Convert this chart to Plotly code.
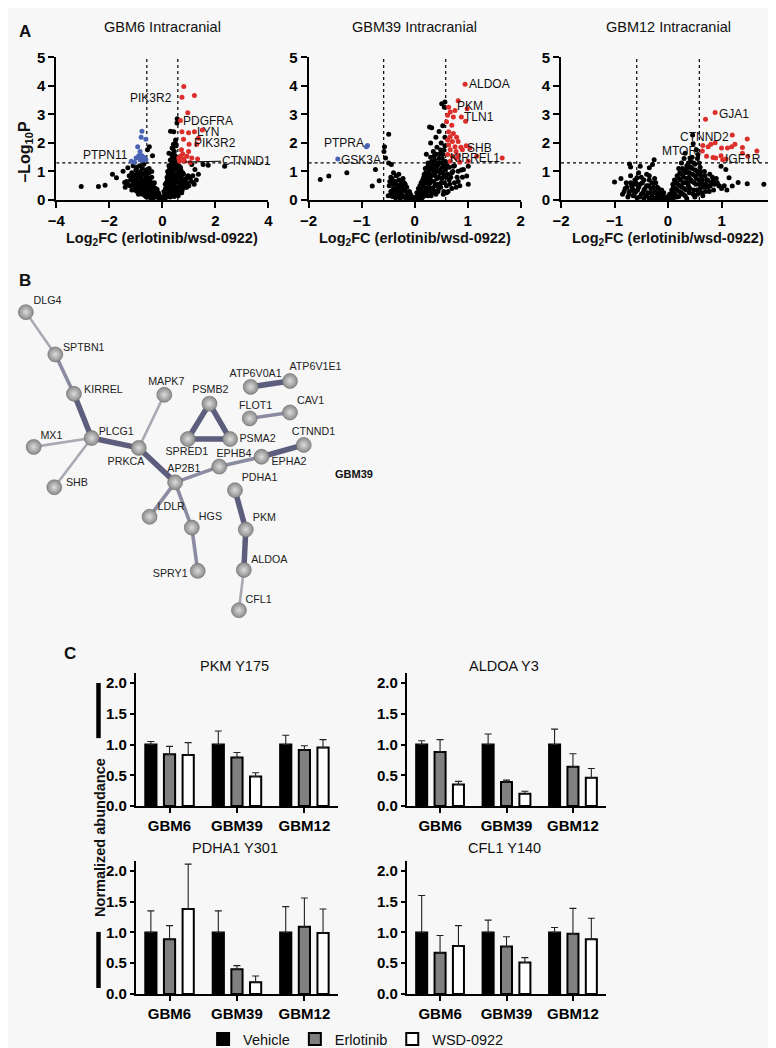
import plotly.graph_objects as go

FONT = "Liberation Sans, Arial, sans-serif"
W, H = 776, 1048

# ---------------- Panel A: volcano data (log2FC, -log10 p) ----------------
gbm6_ns = [(-3.06, 0.47), (-2.41, 0.47), (-2.16, 0.52), (-1.88, 0.90), (-1.73, 0.78), (-1.42, 0.61),
           (-1.48, 1.01), (-1.30, 1.13), (2.35, 1.18), (0.31, 2.41), (0.56, 2.85), (0.55, 2.70),
           (0.43, 2.39), (0.49, 1.99), (0.37, 1.82), (0.25, 1.64), (-0.56, 1.76), (-0.49, 1.87),
           (-0.37, 1.55), (1.11, 1.24), (1.23, 1.07), (1.36, 0.90), (1.05, 0.78), (1.54, 1.24), (1.73, 1.22),
           (-0.05, 0.05), (-0.1, 0.12), (-0.15, 0.08), (-0.2, 0.2), (-0.25, 0.15), (-0.3, 0.3), (-0.3, 0.1),
           (-0.35, 0.22), (-0.4, 0.4), (-0.4, 0.15), (-0.45, 0.3), (-0.5, 0.5), (-0.5, 0.2), (-0.55, 0.38),
           (-0.6, 0.62), (-0.6, 0.25), (-0.65, 0.45), (-0.7, 0.7), (-0.7, 0.3), (-0.75, 0.55), (-0.8, 0.85),
           (-0.8, 0.4), (-0.85, 0.65), (-0.9, 0.95), (-0.9, 0.5), (-0.95, 0.75), (-1.0, 1.05), (-1.0, 0.55),
           (-1.05, 0.85), (-1.1, 0.6), (-1.15, 0.95), (-1.2, 0.7), (-1.3, 0.55), (-1.4, 0.45), (-0.55, 0.8),
           (-0.65, 0.95), (-0.75, 1.1), (-0.85, 1.2), (-0.45, 0.65), (-0.35, 0.5), (-0.25, 0.35), (-0.6, 1.05),
           (-0.5, 0.95), (-0.7, 1.25), (-0.95, 1.15), (-1.1, 1.2), (-0.4, 0.8), (-0.3, 0.6), (-0.2, 0.38),
           (-0.15, 0.25), (-0.55, 0.12), (-0.75, 0.2), (-0.95, 0.3), (-1.15, 0.35), (-0.65, 0.15), (-0.85, 0.25),
           (-0.45, 0.08), (-0.35, 0.05), (-0.5, 1.1), (-0.4, 1.0),
           (0.05, 0.1), (0.08, 0.25), (0.1, 0.05), (0.12, 0.4), (0.15, 0.2), (0.15, 0.6), (0.18, 0.8),
           (0.2, 0.35), (0.2, 1.0), (0.22, 0.15), (0.25, 0.55), (0.25, 1.2), (0.28, 0.75), (0.3, 0.3),
           (0.3, 1.4), (0.32, 0.95), (0.35, 0.5), (0.35, 1.6), (0.38, 1.15), (0.4, 0.2), (0.4, 0.7),
           (0.4, 1.8), (0.42, 1.35), (0.45, 0.9), (0.45, 0.45), (0.48, 1.55), (0.5, 1.1), (0.5, 0.25),
           (0.52, 0.65), (0.55, 1.3), (0.55, 0.85), (0.58, 0.4), (0.6, 1.0), (0.6, 0.6), (0.62, 1.2),
           (0.65, 0.3), (0.65, 0.8), (0.7, 0.5), (0.7, 1.05), (0.75, 0.7), (0.75, 0.35), (0.8, 0.9),
           (0.8, 0.55), (0.85, 0.45), (0.9, 0.75), (0.95, 0.6), (1.0, 0.5), (1.05, 0.8), (1.1, 0.65),
           (1.2, 0.55), (0.3, 0.1), (0.45, 0.12), (0.6, 0.15), (0.2, 0.65), (0.35, 0.85), (0.28, 1.1),
           (0.5, 1.45), (0.45, 1.7), (0.52, 1.9), (0.5, 2.1)]
gbm6_core = [(-0.08, 0.02), (-0.12, 0.18), (-0.18, 0.12), (-0.22, 0.28), (-0.27, 0.22), (-0.28, 0.42),
             (-0.33, 0.15), (-0.33, 0.36), (-0.37, 0.28), (-0.38, 0.48), (-0.42, 0.22), (-0.43, 0.55),
             (-0.47, 0.42), (-0.48, 0.7), (-0.52, 0.3), (-0.53, 0.6), (-0.57, 0.5), (-0.58, 0.72),
             (-0.62, 0.4), (-0.63, 0.85), (-0.67, 0.6), (-0.68, 0.22), (-0.72, 0.45), (-0.73, 0.9),
             (-0.77, 0.72), (-0.78, 0.3), (-0.82, 0.55), (-0.83, 1.0), (-0.87, 0.38), (-0.88, 0.82),
             (-0.92, 0.62), (-0.97, 0.45), (-0.98, 0.9), (-1.02, 0.7), (-1.07, 0.5), (-1.12, 0.8),
             (-1.22, 0.5), (-1.25, 0.85), (-1.35, 0.65), (-0.6, 0.1), (-0.9, 0.2), (-1.05, 0.35),
             (0.03, 0.02), (0.06, 0.3), (0.09, 0.15), (0.11, 0.55), (0.13, 0.3), (0.16, 0.42), (0.17, 0.1),
             (0.19, 0.7), (0.21, 0.5), (0.23, 0.9), (0.24, 0.28), (0.27, 0.62), (0.27, 1.0), (0.29, 0.42),
             (0.31, 0.85), (0.33, 1.25), (0.34, 0.15), (0.36, 0.65), (0.37, 1.0), (0.39, 0.38), (0.41, 0.9),
             (0.43, 1.55), (0.44, 0.58), (0.46, 1.2), (0.47, 0.3), (0.49, 0.8), (0.51, 1.3), (0.53, 0.45),
             (0.54, 1.05), (0.57, 0.7), (0.59, 1.2), (0.61, 0.35), (0.63, 0.92), (0.66, 0.6), (0.68, 1.15),
             (0.72, 0.78), (0.73, 0.25), (0.77, 0.95), (0.78, 0.5), (0.82, 0.7), (0.87, 0.6), (0.92, 0.45),
             (0.97, 0.85), (1.15, 0.85), (1.28, 0.7), (0.42, 1.95), (0.38, 1.5)]
gbm6_up = [(0.81, 3.98), (0.74, 3.60), (1.21, 3.66), (0.96, 3.06), (0.68, 2.79), (0.74, 2.39), (0.99, 2.36),
           (1.21, 2.39), (1.51, 2.45), (0.80, 2.13), (1.01, 1.95), (1.30, 1.95), (1.36, 2.16), (0.72, 1.76),
           (0.77, 1.61), (0.68, 1.53), (0.62, 1.47), (0.80, 1.44), (0.93, 1.53), (1.11, 1.47), (1.33, 1.44),
           (0.99, 1.70), (0.65, 1.36), (0.84, 1.36), (1.05, 1.31)]
gbm6_down = [(-0.77, 2.41), (-0.80, 2.20), (-0.62, 2.13), (-0.93, 1.87), (-0.84, 1.70), (-0.89, 1.55),
             (-0.77, 1.55), (-0.68, 1.49), (-0.99, 1.47), (-0.84, 1.41), (-0.74, 1.39), (-1.17, 1.36),
             (-0.62, 1.41), (-1.05, 1.32)]
gbm6_labels = [("PIK3R2", -0.41, 3.59), ("PDGFRA", 1.74, 2.76), ("LYN", 1.72, 2.38),
               ("PIK3R2", 2.0, 2.0), ("PTPN11", -2.15, 1.59)]

gbm39_ns = [(-1.78, 0.72), (-1.62, 0.84), (-1.28, 0.95), (-0.49, 2.30), (-0.57, 1.87), (-0.58, 1.70),
            (-0.55, 1.47), (-0.49, 1.30), (-0.44, 1.24), (-0.74, 1.07), (-0.67, 0.67), (-0.80, 0.49),
            (0.28, 2.56), (0.32, 2.53), (0.51, 3.37), (0.57, 3.43), (0.56, 3.25), (0.98, 0.84), (1.01, 0.55),
            (0.92, 1.07), (0.82, 1.01), (0.73, 1.18), (1.01, 1.18),
            (-0.05, 0.05), (-0.1, 0.15), (-0.12, 0.05), (-0.15, 0.25), (-0.2, 0.1), (-0.2, 0.35), (-0.25, 0.2),
            (-0.28, 0.45), (-0.3, 0.1), (-0.32, 0.3), (-0.35, 0.55), (-0.38, 0.2), (-0.4, 0.4), (-0.42, 0.65),
            (-0.45, 0.3), (-0.45, 0.8), (-0.48, 0.5), (-0.3, 0.7), (-0.25, 0.6), (-0.35, 0.85), (-0.4, 0.95),
            (-0.5, 0.15), (-0.15, 0.45), (-0.1, 0.3), (-0.22, 0.75), (-0.08, 0.2), (-0.18, 0.55), (-0.3, 0.9),
            (-0.42, 0.12), (-0.27, 0.05),
            (0.02, 0.05), (0.05, 0.15), (0.08, 0.3), (0.1, 0.08), (0.1, 0.5), (0.12, 0.25), (0.15, 0.7),
            (0.15, 0.12), (0.18, 0.45), (0.18, 0.9), (0.2, 0.3), (0.2, 1.1), (0.22, 0.65), (0.25, 0.15),
            (0.25, 0.85), (0.25, 1.3), (0.28, 0.45), (0.28, 1.05), (0.3, 1.5), (0.3, 0.7), (0.32, 0.25),
            (0.33, 1.2), (0.35, 0.9), (0.35, 1.7), (0.38, 0.5), (0.38, 1.4), (0.4, 1.1), (0.4, 0.2),
            (0.42, 0.75), (0.42, 1.85), (0.45, 1.3), (0.45, 0.4), (0.47, 1.6), (0.48, 0.95), (0.5, 2.0),
            (0.5, 0.6), (0.52, 1.15), (0.52, 1.45), (0.55, 0.3), (0.55, 0.85), (0.55, 1.75), (0.57, 2.2),
            (0.58, 1.05), (0.58, 1.35), (0.6, 0.5), (0.62, 0.9), (0.65, 0.7), (0.65, 1.15), (0.7, 0.4),
            (0.7, 0.95), (0.75, 0.6), (0.75, 1.2), (0.8, 0.8), (0.85, 0.5), (0.88, 1.05), (0.3, 2.0),
            (0.22, 1.6), (0.4, 2.2), (0.46, 2.4), (0.53, 2.6)]
gbm39_core = [(-0.04, 0.1), (-0.07, 0.02), (-0.13, 0.2), (-0.17, 0.08), (-0.18, 0.32), (-0.23, 0.15),
              (-0.24, 0.45), (-0.27, 0.3), (-0.3, 0.52), (-0.33, 0.18), (-0.34, 0.4), (-0.37, 0.65),
              (-0.39, 0.3), (-0.41, 0.55), (-0.43, 0.75), (-0.44, 0.2), (-0.47, 0.65), (-0.36, 0.08),
              (-0.26, 0.68), (-0.2, 0.6),
              (0.03, 0.1), (0.04, 0.25), (0.06, 0.05), (0.07, 0.4), (0.09, 0.18), (0.11, 0.35), (0.12, 0.6),
              (0.14, 0.08), (0.14, 0.5), (0.16, 0.28), (0.17, 0.8), (0.19, 0.15), (0.19, 0.6), (0.21, 0.4),
              (0.21, 0.95), (0.23, 0.25), (0.23, 0.75), (0.24, 1.15), (0.26, 0.55), (0.27, 0.35), (0.27, 0.95),
              (0.29, 1.2), (0.29, 0.6), (0.31, 0.15), (0.31, 0.85), (0.32, 1.35), (0.34, 0.4), (0.34, 1.05),
              (0.36, 0.65), (0.36, 1.25), (0.37, 1.55), (0.39, 0.3), (0.39, 0.85), (0.41, 1.0), (0.41, 1.6),
              (0.43, 0.55), (0.43, 1.2), (0.44, 0.3), (0.46, 0.8), (0.46, 1.45), (0.48, 1.05), (0.49, 0.45),
              (0.49, 1.75), (0.51, 0.75), (0.51, 1.3), (0.53, 0.95), (0.53, 1.6), (0.54, 0.2), (0.56, 0.6),
              (0.56, 1.2), (0.57, 1.9), (0.59, 0.8), (0.61, 1.2), (0.63, 0.3), (0.66, 0.55), (0.68, 0.8),
              (0.72, 1.0), (0.78, 0.45), (0.82, 0.65), (0.9, 0.8), (0.6, 0.25)]
gbm39_up = [(0.95, 4.06), (0.82, 3.48), (0.99, 3.20), (0.64, 3.25), (0.67, 3.08), (0.76, 3.14), (0.62, 2.97),
            (0.73, 2.91), (0.88, 2.91), (0.96, 2.76), (0.60, 2.74), (0.70, 2.62), (0.64, 2.39), (0.73, 2.33),
            (0.67, 2.22), (0.79, 2.20), (0.62, 2.10), (0.71, 2.05), (0.82, 2.05), (0.64, 1.93), (0.76, 1.87),
            (0.87, 1.85), (0.97, 1.90), (0.67, 1.76), (0.78, 1.70), (0.90, 1.76), (0.62, 1.59), (0.71, 1.53),
            (0.82, 1.55), (1.04, 1.82), (1.17, 1.53), (1.65, 1.47), (0.67, 1.36), (0.85, 1.32), (1.01, 1.36),
            (0.79, 1.46)]
gbm39_down = [(-0.91, 1.87), (-0.89, 1.91), (-1.45, 1.44)]
gbm39_labels = [("ALDOA", 1.42, 4.07), ("PKM", 1.05, 3.28), ("TLN1", 1.21, 2.90), ("PTPRA", -1.33, 2.0),
                ("GSK3A", -1.01, 1.41), ("SHB", 1.23, 1.83), ("KIRREL1", 1.14, 1.48)]

gbm12_ns = [(0.56, 1.59), (0.53, 1.76), (0.47, 1.97), (0.46, 2.28), (0.32, 1.64), (0.41, 1.47), (-1.0, 0.63),
            (-0.72, 1.26), (-0.70, 1.16), (-0.26, 1.41), (-0.29, 1.24), (-0.52, 1.18), (-0.35, 1.13),
            (1.79, 0.55), (1.48, 0.57), (1.31, 0.61), (1.14, 0.78), (1.08, 1.07), (0.99, 1.18), (1.20, 0.49),
            (0.96, 0.49), (0.84, 0.67),
            (-0.05, 0.05), (-0.1, 0.12), (-0.15, 0.05), (-0.2, 0.2), (-0.22, 0.08), (-0.25, 0.3), (-0.3, 0.15),
            (-0.32, 0.4), (-0.35, 0.05), (-0.38, 0.25), (-0.4, 0.5), (-0.42, 0.12), (-0.45, 0.35), (-0.48, 0.6),
            (-0.5, 0.2), (-0.55, 0.45), (-0.58, 0.08), (-0.6, 0.3), (-0.62, 0.7), (-0.65, 0.15), (-0.68, 0.5),
            (-0.7, 0.85), (-0.72, 0.3), (-0.75, 0.1), (-0.78, 0.6), (-0.8, 0.4), (-0.85, 0.2), (-0.88, 0.75),
            (-0.3, 0.6), (-0.2, 0.45), (-0.15, 0.3), (-0.5, 0.8), (-0.4, 0.9), (-0.55, 0.95), (-0.25, 0.75),
            (-0.62, 0.55), (-0.12, 0.2), (-0.35, 0.7), (-0.45, 0.05), (-0.65, 0.35),
            (0.02, 0.05), (0.05, 0.15), (0.08, 0.3), (0.1, 0.08), (0.1, 0.45), (0.13, 0.2), (0.15, 0.6),
            (0.17, 0.35), (0.2, 0.12), (0.2, 0.75), (0.22, 0.5), (0.25, 0.25), (0.25, 0.9), (0.28, 0.6),
            (0.3, 1.05), (0.3, 0.4), (0.32, 0.15), (0.35, 0.75), (0.35, 1.2), (0.38, 0.5), (0.4, 0.95),
            (0.4, 0.25), (0.42, 1.35), (0.45, 0.65), (0.45, 1.1), (0.48, 0.35), (0.5, 0.85), (0.5, 1.25),
            (0.52, 0.55), (0.55, 1.0), (0.55, 0.2), (0.58, 0.7), (0.6, 1.15), (0.6, 0.4), (0.62, 0.85),
            (0.65, 0.55), (0.68, 1.0), (0.7, 0.3), (0.72, 0.7), (0.75, 0.45), (0.78, 0.9), (0.8, 0.6),
            (0.85, 0.35), (0.9, 0.75), (0.95, 0.5), (1.0, 0.4), (0.35, 0.05), (0.5, 0.1), (0.65, 0.15),
            (0.25, 1.3), (0.3, 1.45), (0.45, 1.5), (0.2, 1.1), (0.58, 1.3), (0.55, 1.45)]
gbm12_core = [(-0.03, 0.1), (-0.07, 0.05), (-0.08, 0.25), (-0.12, 0.35), (-0.17, 0.15), (-0.18, 0.4),
              (-0.23, 0.25), (-0.27, 0.45), (-0.28, 0.05), (-0.33, 0.25), (-0.36, 0.5), (-0.4, 0.15),
              (-0.43, 0.4), (-0.47, 0.25), (-0.52, 0.55), (-0.53, 0.1), (-0.57, 0.35), (-0.6, 0.6),
              (-0.63, 0.22), (-0.67, 0.42), (-0.7, 0.6), (-0.73, 0.2), (-0.77, 0.45), (-0.82, 0.3),
              (-0.58, 0.78), (-0.45, 0.7), (-0.35, 0.85), (-0.23, 0.6),
              (0.03, 0.2), (0.06, 0.08), (0.07, 0.35), (0.09, 0.55), (0.11, 0.22), (0.12, 0.7), (0.14, 0.4),
              (0.16, 0.1), (0.17, 0.85), (0.18, 0.55), (0.21, 0.3), (0.22, 0.95), (0.23, 0.7), (0.26, 0.45),
              (0.27, 1.1), (0.28, 0.2), (0.29, 0.8), (0.31, 0.6), (0.33, 0.95), (0.34, 0.35), (0.36, 1.1),
              (0.37, 0.6), (0.39, 0.8), (0.41, 0.4), (0.42, 1.15), (0.43, 0.7), (0.46, 0.9), (0.47, 0.2),
              (0.49, 0.6), (0.51, 1.05), (0.53, 0.75), (0.54, 0.35), (0.57, 0.9), (0.59, 0.55), (0.61, 1.0),
              (0.63, 0.25), (0.64, 0.7), (0.67, 0.45), (0.69, 0.85), (0.71, 0.55), (0.74, 0.7), (0.77, 0.3),
              (0.79, 0.5), (0.83, 0.8), (0.87, 0.55), (0.92, 0.6), (1.05, 0.5), (1.1, 0.35), (0.38, 1.3),
              (0.48, 1.3)]
gbm12_up = [(0.88, 3.07), (0.70, 2.83), (1.20, 2.28), (1.48, 2.14), (0.80, 1.95), (0.88, 2.01), (1.00, 1.82),
            (1.11, 1.82), (1.19, 1.87), (1.25, 1.95), (1.39, 1.84), (1.66, 1.72), (0.75, 1.87), (0.64, 1.72),
            (0.72, 1.53), (0.84, 1.49), (0.89, 1.47), (0.99, 1.55), (1.02, 1.41), (1.08, 1.44), (1.39, 1.64),
            (1.49, 1.53), (0.65, 1.91)]
gbm12_down = []
gbm12_labels = [("GJA1", 1.23, 3.03), ("CTNND2", 0.68, 2.21), ("MTOR", 0.22, 1.72), ("IGF1R", 1.41, 1.45)]

volcano_titles = ["GBM6 Intracranial", "GBM39 Intracranial", "GBM12 Intracranial"]
fc_cut, p_cut = 0.585, 1.3

# ---------------- Panel B: STRING network (GBM39) ----------------
net_nodes = {"DLG4": (9, 300), "SPTBN1": (39, 343), "KIRREL": (58, 383), "MAPK7": (150, 384),
             "PSMB2": (196, 393), "MX1": (17, 437), "PLCG1": (76, 428), "PRKCA": (124, 438),
             "SPRED1": (174, 429), "PSMA2": (217, 429), "SHB": (38, 478), "AP2B1": (161, 473),
             "EPHB4": (206, 457), "EPHA2": (249, 447), "CTNND1": (292, 435), "ATP6V0A1": (238, 376),
             "ATP6V1E1": (278, 370), "FLOT1": (237, 408), "CAV1": (278, 402), "PDHA1": (222, 481),
             "PKM": (233, 521), "ALDOA": (231, 562), "CFL1": (226, 603), "HGS": (178, 519),
             "SPRY1": (184, 563), "LDLR": (135, 508)}
net_label_pos = {"DLG4": (31, 289), "SPTBN1": (68, 337), "KIRREL": (88, 379), "MAPK7": (152, 371),
                 "PSMB2": (197, 379), "MX1": (35, 426), "PLCG1": (101, 422), "PRKCA": (111, 453),
                 "SPRED1": (173, 443), "PSMA2": (245, 429), "SHB": (61, 474), "AP2B1": (170, 460),
                 "EPHB4": (221, 445), "EPHA2": (277, 453), "CTNND1": (302, 422), "ATP6V0A1": (243, 363),
                 "ATP6V1E1": (304, 356), "FLOT1": (243, 396), "CAV1": (299, 391), "PDHA1": (247, 469),
                 "PKM": (252, 510), "ALDOA": (257, 552), "CFL1": (246, 593), "HGS": (197, 509),
                 "SPRY1": (156, 567), "LDLR": (157, 498)}
# edge confidence: 3 high, 2 medium, 1 low
net_edges = [("DLG4", "SPTBN1", 1), ("SPTBN1", "KIRREL", 2), ("KIRREL", "PLCG1", 3), ("PLCG1", "MX1", 1),
             ("PLCG1", "SHB", 1), ("PLCG1", "PRKCA", 3), ("PRKCA", "MAPK7", 1), ("PRKCA", "AP2B1", 3),
             ("AP2B1", "LDLR", 2), ("AP2B1", "HGS", 2), ("HGS", "SPRY1", 2), ("AP2B1", "EPHB4", 2),
             ("EPHB4", "EPHA2", 2), ("EPHA2", "CTNND1", 3), ("PSMB2", "SPRED1", 3), ("PSMB2", "PSMA2", 3),
             ("SPRED1", "PSMA2", 3), ("ATP6V0A1", "ATP6V1E1", 3), ("FLOT1", "CAV1", 2),
             ("PDHA1", "PKM", 3), ("PKM", "ALDOA", 3), ("ALDOA", "CFL1", 1)]

# ---------------- Panel C: normalized abundance ----------------
cell_lines = ["GBM6", "GBM39", "GBM12"]
treatments = ["Vehicle", "Erlotinib", "WSD-0922"]
site_titles = ["PKM Y175", "ALDOA Y3", "PDHA1 Y301", "CFL1 Y140"]

pkm_vehicle, pkm_vehicle_err = [1.00, 1.00, 1.00], [0.05, 0.22, 0.15]
pkm_erlotinib, pkm_erlotinib_err = [0.84, 0.79, 0.91], [0.13, 0.08, 0.07]
pkm_wsd, pkm_wsd_err = [0.83, 0.48, 0.95], [0.20, 0.06, 0.13]

aldoa_vehicle, aldoa_vehicle_err = [1.00, 1.00, 1.00], [0.06, 0.17, 0.25]
aldoa_erlotinib, aldoa_erlotinib_err = [0.88, 0.39, 0.64], [0.20, 0.03, 0.21]
aldoa_wsd, aldoa_wsd_err = [0.35, 0.20, 0.46], [0.05, 0.04, 0.15]

pdha1_vehicle, pdha1_vehicle_err = [1.00, 1.00, 1.00], [0.35, 0.35, 0.42]
pdha1_erlotinib, pdha1_erlotinib_err = [0.89, 0.40, 1.09], [0.22, 0.06, 0.47]
pdha1_wsd, pdha1_wsd_err = [1.38, 0.19, 0.99], [0.73, 0.10, 0.39]

cfl1_vehicle, cfl1_vehicle_err = [1.00, 1.00, 1.00], [0.60, 0.20, 0.08]
cfl1_erlotinib, cfl1_erlotinib_err = [0.67, 0.77, 0.98], [0.28, 0.16, 0.41]
cfl1_wsd, cfl1_wsd_err = [0.78, 0.51, 0.89], [0.33, 0.08, 0.34]

fig = go.Figure()

def px_x(p):
    return p / W

def px_y(p):
    return 1 - p / H

# ---- volcano plots ----
volcano_sets = [(gbm6_ns + gbm6_core, gbm6_up, gbm6_down, gbm6_labels, 4),
                (gbm39_ns + gbm39_core, gbm39_up, gbm39_down, gbm39_labels, 2),
                (gbm12_ns + gbm12_core, gbm12_up, gbm12_down, gbm12_labels, 2)]
volcano_dom = [(40, 256), (297, 513), (554, 772)]
dot_colors = ["black", "#dc2f2b", "#4a63b4"]

for i, (ns, up, down, labels, lim) in enumerate(volcano_sets):
    sx = "" if i == 0 else str(i + 1)
    for pts, col in zip([ns, up, down], dot_colors):
        if not pts:
            continue
        fig.add_trace(go.Scatter(x=[p[0] for p in pts], y=[p[1] for p in pts], mode="markers",
                                 marker=dict(size=5, color=col), showlegend=False, cliponaxis=False,
                                 xaxis="x" + sx, yaxis="y" + sx))
    x0, x1 = volcano_dom[i]
    fig.update_layout(**{
        "xaxis" + sx: dict(domain=[px_x(x0), px_x(x1)], range=[-lim, lim], anchor="y" + sx,
                           tickvals=list(range(-lim, lim + 1, 2 if lim == 4 else 1))),
        "yaxis" + sx: dict(domain=[px_y(186), px_y(41)], range=[0, 5], anchor="x" + sx,
                           tickvals=[0, 1, 2, 3, 4, 5]),
    })
    xr, yr = "x" + sx, "y" + sx
    for xv in (-fc_cut, fc_cut):
        fig.add_shape(type="line", xref=xr, yref=yr, x0=xv, x1=xv, y0=0, y1=5, layer="below",
                      line=dict(color="black", width=1.2, dash="dot"))
    fig.add_shape(type="line", xref=xr, yref=yr, x0=-lim, x1=lim, y0=p_cut, y1=p_cut, layer="below",
                  line=dict(color="black", width=1.2, dash="dot"))
    for txt, lx, ly in labels:
        fig.add_annotation(x=lx, y=ly, xref=xr, yref=yr, text=txt, showarrow=False,
                           font=dict(family=FONT, size=12, color="#111"))

# CTNND1 label with leader line (GBM6)
fig.add_annotation(x=0.86, y=1.33, xref="x", yref="y", ax=3.19, ay=1.38, axref="x", ayref="y",
                   text="CTNND1", showarrow=True, arrowhead=0, arrowwidth=1, arrowcolor="black",
                   standoff=0, font=dict(family=FONT, size=12, color="#111"))

# ---- network ----
edge_style = {3: ("#5d5d7e", 5.5), 2: ("#8b8ba2", 3.6), 1: ("#a9a9b4", 2.6)}
for a, b, w in net_edges:
    col, lw = edge_style[w]
    fig.add_trace(go.Scatter(x=[net_nodes[a][0], net_nodes[b][0]], y=[net_nodes[a][1], net_nodes[b][1]],
                             mode="lines", line=dict(color=col, width=lw), showlegend=False,
                             xaxis="x4", yaxis="y4", hoverinfo="skip"))
names = list(net_nodes)
fig.add_trace(go.Scatter(x=[net_nodes[n][0] for n in names], y=[net_nodes[n][1] for n in names],
                         mode="markers", showlegend=False, xaxis="x4", yaxis="y4", cliponaxis=False,
                         marker=dict(size=15, color="#8a8a8a", line=dict(width=0.6, color="#6d6d6d"),
                                     gradient=dict(type="radial", color="#dcdcdc"))))
fig.add_trace(go.Scatter(x=[net_label_pos[n][0] for n in names], y=[net_label_pos[n][1] for n in names],
                         mode="text", text=names, textposition="middle center", showlegend=False,
                         textfont=dict(family=FONT, size=10.7, color="#222"),
                         xaxis="x4", yaxis="y4", cliponaxis=False))

# ---- bar charts ----
bar_sets = [
    [(pkm_vehicle, pkm_vehicle_err), (pkm_erlotinib, pkm_erlotinib_err), (pkm_wsd, pkm_wsd_err)],
    [(aldoa_vehicle, aldoa_vehicle_err), (aldoa_erlotinib, aldoa_erlotinib_err), (aldoa_wsd, aldoa_wsd_err)],
    [(pdha1_vehicle, pdha1_vehicle_err), (pdha1_erlotinib, pdha1_erlotinib_err), (pdha1_wsd, pdha1_wsd_err)],
    [(cfl1_vehicle, cfl1_vehicle_err), (cfl1_erlotinib, cfl1_erlotinib_err), (cfl1_wsd, cfl1_wsd_err)],
]
bar_fill = ["black", "#808080", "white"]
bar_xdom = [(121, 327), (397, 600), (121, 327), (397, 600)]
bar_ydom = [(802, 667), (802, 667), (993, 858), (993, 858)]
bar_title_px = [(222, 660), (496, 660), (222, 845), (496, 845)]

for k, series in enumerate(bar_sets):
    n = str(k + 5)
    for j, (vals, errs) in enumerate(series):
        fig.add_trace(go.Bar(x=cell_lines, y=vals, name=treatments[j], legendgroup=treatments[j],
                             showlegend=(k == 0), xaxis="x" + n, yaxis="y" + n,
                             marker=dict(color=bar_fill[j], line=dict(color="black", width=2)),
                             error_y=dict(type="data", array=errs, arrayminus=[0] * len(errs),
                                          symmetric=False, color="#222", thickness=1.1, width=3.5)))
    x0, x1 = bar_xdom[k]
    yb, yt = bar_ydom[k]
    fig.update_layout(**{
        "xaxis" + n: dict(domain=[px_x(x0), px_x(x1)], anchor="y" + n, type="category",
                          range=[-0.5, 2.5], ticklen=5),
        "yaxis" + n: dict(domain=[px_y(yb), px_y(yt)], anchor="x" + n, range=[0, 2.16],
                          tickvals=[0, 0.5, 1.0, 1.5, 2.0], tickformat=".1f", ticklen=4),
    })
    tx, ty = bar_title_px[k]
    fig.add_annotation(x=tx, y=ty, xref="x4", yref="y4", text=site_titles[k], showarrow=False,
                       font=dict(family=FONT, size=14.5, color="#111"))

# ---- shared axis styling ----
axis_style = dict(showline=True, linecolor="black", linewidth=2, ticks="outside", tickwidth=2,
                  tickcolor="black", showgrid=False, zeroline=False,
                  tickfont=dict(family=FONT, size=15, color="black", weight="bold"))
for n in ["", "2", "3", "5", "6", "7", "8"]:
    fig.update_layout(**{"xaxis" + n: axis_style, "yaxis" + n: axis_style})
for n in ["", "2", "3"]:
    fig.update_layout(**{"xaxis" + n: dict(ticklen=6), "yaxis" + n: dict(ticklen=6)})

# overlay axis in pixel space for network and free text
fig.update_layout(
    xaxis4=dict(domain=[0, 1], range=[0, W], visible=False, anchor="y4"),
    yaxis4=dict(domain=[0, 1], range=[H, 0], visible=False, anchor="x4"),
)

# ---- free text ----
texts = [
    ("<b>A</b>", 8, 15, 17, 0), ("<b>B</b>", 8, 268, 17, 0), ("<b>C</b>", 54, 647, 17, 0),
    (volcano_titles[0], 148, 10, 14.5, 0), (volcano_titles[1], 405, 10, 14.5, 0),
    (volcano_titles[2], 663, 10, 14.5, 0),
    ("<b>Log<sub>2</sub>FC (erlotinib/wsd-0922)</b>", 148, 226, 14.5, 0),
    ("<b>Log<sub>2</sub>FC (erlotinib/wsd-0922)</b>", 405, 226, 14.5, 0),
    ("<b>Log<sub>2</sub>FC (erlotinib/wsd-0922)</b>", 663, 226, 14.5, 0),
    ("<b>–Log<sub>10</sub>P</b>", 9, 137, 16, -90),
    ("<b>GBM39</b>", 343, 465, 11, 0),
    ("<b>Normalized abundance</b>", 85, 834, 14.5, -90),
]
for txt, x, y, sz, ang in texts:
    fig.add_annotation(x=x, y=y, xref="x4", yref="y4", text=txt, showarrow=False, textangle=ang,
                       xanchor="center", yanchor="middle", font=dict(family=FONT, size=sz, color="#111"))

# black marks beside the y title
for y0, y1 in [(677, 733), (930, 987)]:
    fig.add_shape(type="line", xref="x4", yref="y4", x0=83, x1=83, y0=y0, y1=y1,
                  line=dict(color="black", width=4.5))

fig.update_layout(
    width=W, height=H, autosize=False,
    margin=dict(l=0, r=0, t=0, b=0),
    paper_bgcolor="#f7f7f7", plot_bgcolor="rgba(0,0,0,0)",
    font=dict(family=FONT, color="black"),
    barmode="group", bargap=0.17, bargroupgap=0.4,
    legend=dict(orientation="h", x=0.445, xanchor="center", y=px_y(1039), yanchor="middle",
                font=dict(family=FONT, size=14.5, color="#111"), bgcolor="rgba(0,0,0,0)",
                traceorder="normal"),
)

fig.write_html("out.html")
